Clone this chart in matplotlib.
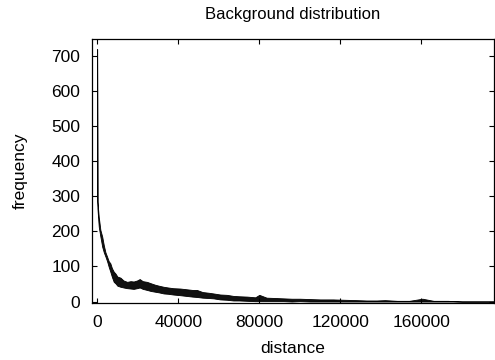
import matplotlib
matplotlib.use("Agg")
import matplotlib.pyplot as plt

plt.rcParams['font.family'] = ['Liberation Sans', 'DejaVu Sans']

# noisy band: upper / lower edge of the trace
distance = [0, 150, 800, 1600, 2500, 3300, 4100, 4900, 5700, 6500,
            7300, 8200, 9000, 10000, 11500, 13000, 14800, 16500, 18000, 19700,
            21000, 22500, 24600, 26500, 28500, 30500, 32800, 35000, 37500, 41000,
            44000, 47000, 49200, 52000, 55000, 57400, 60700, 64000, 67200, 70000,
            74000, 78000, 80000, 83600, 88000, 92000, 96000, 100000, 105000, 110000,
            116400, 122000, 128000, 132800, 138000, 142000, 148000, 154000, 160500, 166000,
            173000, 180000, 195800]
upper = [719, 285, 241, 204, 185, 160, 140, 128, 115, 109,
         95, 85, 80, 71, 68, 60, 56, 58, 57, 60,
         64, 58, 56, 52, 48, 45, 42, 40, 38, 37,
         35, 33, 33, 27, 25, 23, 20, 19, 16, 15,
         14, 12, 19, 11, 10, 9, 8, 8, 7, 6,
         6, 5, 4, 3, 3, 4, 2, 2, 8, 2,
         2, 0, 0]
lower = [700, 265, 213, 185, 156, 140, 128, 115, 99, 85,
         70, 56, 52, 45, 42, 40, 38, 37, 36, 38,
         40, 36, 33, 30, 28, 26, 23, 22, 20, 18,
         16, 14, 13, 11, 10, 9, 6, 5, 3, 3,
         2, 1, 1, 1, 1, 1, 0, 1, 0, 0,
         0, 0, 0, 0, 0, 0, 0, 0, 0, 0,
         0, 0, 0]

xticks = [0, 40000, 80000, 120000, 160000]
yticks = [0, 100, 200, 300, 400, 500, 600, 700]

fig = plt.figure(figsize=(4.95, 3.6), dpi=100)
ax = fig.add_axes([0.186, 0.159, 0.812, 0.733])

ax.fill_between(distance, lower, upper, facecolor='#111111', edgecolor='black', linewidth=0.6)

ax.set_xlim(-2500, 195800)
ax.set_ylim(-3.5, 748)
ax.set_xticks(xticks)
ax.set_yticks(yticks)
ax.tick_params(direction='in', top=True, right=True, length=3.5, width=0.8,
               labelsize=12.5, pad=8.5)
for s in ax.spines.values():
    s.set_linewidth(0.9)

ax.set_title('Background distribution', fontsize=12, pad=14)
ax.set_xlabel('distance', fontsize=12.5, labelpad=8)
ax.set_ylabel('frequency', fontsize=12.5, labelpad=17)

fig.savefig('out.png', dpi=100)
